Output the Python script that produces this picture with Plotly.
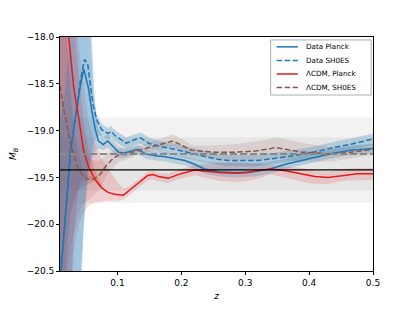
import plotly.graph_objects as go

# ---------------- data ----------------
# Data Planck (solid blue)
z_dp = [0.01, 0.019, 0.0266, 0.0343, 0.0419, 0.0472, 0.0546, 0.0598, 0.0648, 0.0699, 0.0775, 0.0847,
        0.0954, 0.1015, 0.1107, 0.1214, 0.132, 0.1443, 0.1596, 0.175, 0.1948, 0.2055, 0.2208, 0.2361,
        0.259, 0.2865, 0.3125, 0.3385, 0.363, 0.389, 0.415, 0.4394, 0.4654, 0.5]
m_dp = [-20.64, -19.84, -19.21, -18.86, -18.52, -18.34, -18.55, -18.79, -18.97, -19.11, -19.15, -19.11,
        -19.19, -19.23, -19.24, -19.22, -19.20, -19.25, -19.27, -19.28, -19.31, -19.32, -19.36, -19.41,
        -19.44, -19.45, -19.44, -19.41, -19.36, -19.32, -19.28, -19.24, -19.21, -19.19]
m_dp_hi = [-17.0, -17.0, -17.0, -17.0, -17.0, -17.2, -17.6, -18.0, -18.7, -18.97, -19.07, -19.04,
           -19.12, -19.17, -19.19, -19.17, -19.15, -19.20, -19.22, -19.23, -19.26, -19.27, -19.30, -19.33,
           -19.34, -19.35, -19.35, -19.33, -19.30, -19.27, -19.23, -19.19, -19.16, -19.14]
m_dp_lo = [-21.5, -21.5, -21.5, -21.5, -21.0, -20.0, -19.45, -19.3, -19.22, -19.19, -19.21, -19.18,
           -19.25, -19.29, -19.29, -19.27, -19.25, -19.30, -19.32, -19.33, -19.36, -19.37, -19.41, -19.46,
           -19.49, -19.50, -19.49, -19.46, -19.41, -19.37, -19.33, -19.29, -19.26, -19.24]

# Data SH0ES (dashed blue)
z_ds = [0.01, 0.019, 0.0266, 0.0343, 0.0419, 0.0482, 0.0534, 0.0572, 0.0622, 0.0674, 0.0751, 0.0852,
        0.0904, 0.0954, 0.1015, 0.1138, 0.129, 0.1367, 0.149, 0.1673, 0.190, 0.210, 0.2315, 0.2514,
        0.2743, 0.2972, 0.320, 0.343, 0.366, 0.389, 0.415, 0.439, 0.4654, 0.5]
m_ds = [-20.64, -19.84, -19.21, -18.84, -18.47, -18.24, -18.29, -18.5, -18.74, -18.885, -18.99, -19.03,
        -19.01, -19.05, -19.08, -19.135, -19.09, -19.08, -19.135, -19.17, -19.20, -19.23, -19.27, -19.30,
        -19.32, -19.32, -19.32, -19.30, -19.28, -19.255, -19.22, -19.18, -19.145, -19.09]
m_ds_hi = [-18.9, -18.5, -18.0, -17.5, -17.0, -17.2, -17.5, -17.9, -18.6, -18.83, -18.93, -18.97,
           -18.95, -18.99, -19.02, -19.075, -19.03, -19.02, -19.075, -19.11, -19.14, -19.17, -19.21, -19.24,
           -19.26, -19.26, -19.26, -19.24, -19.22, -19.195, -19.16, -19.12, -19.085, -19.03]
m_ds_lo = [-21.5, -21.5, -21.5, -21.5, -21.0, -19.9, -19.45, -19.3, -19.15, -19.05, -19.06, -19.09,
           -19.07, -19.11, -19.14, -19.195, -19.15, -19.14, -19.195, -19.23, -19.26, -19.29, -19.33, -19.36,
           -19.38, -19.38, -19.38, -19.36, -19.34, -19.315, -19.28, -19.24, -19.205, -19.15]

# LCDM, Planck (solid red)
z_lp = [0.01, 0.0218, 0.0266, 0.0317, 0.0393, 0.047, 0.0546, 0.0648, 0.0751, 0.0852, 0.0954, 0.103,
        0.109, 0.1183, 0.1336, 0.1474, 0.155, 0.1642, 0.1795, 0.1948, 0.2208, 0.2361, 0.262, 0.2865,
        0.3018, 0.3171, 0.340, 0.363, 0.389, 0.409, 0.430, 0.4501, 0.476, 0.5]
m_lp = [-17.1, -17.93, -18.27, -18.55, -18.865, -19.21, -19.385, -19.52, -19.61, -19.66, -19.68, -19.69,
        -19.69, -19.64, -19.56, -19.48, -19.47, -19.49, -19.51, -19.47, -19.42, -19.43, -19.45, -19.455,
        -19.45, -19.43, -19.41, -19.43, -19.46, -19.49, -19.50, -19.48, -19.46, -19.46]
m_lp_hi = [-16.5, -16.8, -17.2, -17.6, -18.1, -18.5, -18.9, -19.15, -19.3, -19.4, -19.5, -19.58,
           -19.62, -19.6, -19.52, -19.44, -19.43, -19.45, -19.46, -19.42, -19.37, -19.36, -19.35, -19.33,
           -19.34, -19.35, -19.36, -19.38, -19.40, -19.43, -19.44, -19.41, -19.40, -19.40]
m_lp_lo = [-21.5, -21.5, -21.0, -20.3, -20.0, -19.88, -19.8, -19.77, -19.76, -19.75, -19.75, -19.75,
           -19.74, -19.69, -19.61, -19.53, -19.52, -19.54, -19.56, -19.52, -19.48, -19.5, -19.54, -19.55,
           -19.54, -19.52, -19.47, -19.5, -19.55, -19.57, -19.57, -19.54, -19.53, -19.53]
# inner (1 sigma) band at low z
z_lp_in = [0.01, 0.0218, 0.0266, 0.0317, 0.0393, 0.047, 0.0546, 0.0648, 0.0751]
m_lp_in_hi = [-16.5, -16.9, -17.4, -17.8, -18.4, -18.9, -19.2, -19.42, -19.58]
m_lp_in_lo = [-21.5, -21.3, -20.8, -20.1, -19.6, -19.5, -19.5, -19.55, -19.63]

# LCDM, SH0ES (dashed brown)
z_ls = [0.01, 0.0113, 0.0164, 0.0218, 0.0266, 0.0317, 0.0369, 0.0445, 0.0522, 0.0622, 0.0725, 0.0832,
        0.0928, 0.103, 0.1138, 0.129, 0.1443, 0.1596, 0.175, 0.1872, 0.201, 0.2162, 0.2315, 0.2514,
        0.2865, 0.3128, 0.3385, 0.346, 0.363, 0.389, 0.415, 0.435, 0.4654, 0.5]
m_ls = [-18.52, -18.58, -18.79, -18.97, -19.145, -19.25, -19.385, -19.47, -19.52, -19.52, -19.47, -19.365,
        -19.30, -19.255, -19.255, -19.22, -19.19, -19.16, -19.135, -19.11, -19.16, -19.21, -19.22, -19.23,
        -19.23, -19.22, -19.195, -19.18, -19.20, -19.23, -19.24, -19.25, -19.23, -19.20]
m_ls_hi = [-17.0, -17.0, -17.2, -17.6, -18.0, -18.5, -18.85, -19.1, -19.25, -19.32, -19.32, -19.25,
           -19.21, -19.19, -19.2, -19.17, -19.14, -19.1, -19.07, -19.04, -19.09, -19.15, -19.16, -19.16,
           -19.14, -19.12, -19.09, -19.07, -19.09, -19.13, -19.16, -19.18, -19.17, -19.15]
m_ls_lo = [-21.5, -21.5, -21.0, -20.5, -20.25, -20.1, -19.95, -19.8, -19.75, -19.70, -19.62, -19.48,
           -19.40, -19.33, -19.31, -19.27, -19.24, -19.21, -19.19, -19.17, -19.22, -19.27, -19.28, -19.30,
           -19.32, -19.32, -19.30, -19.29, -19.31, -19.33, -19.33, -19.33, -19.30, -19.26]
z_ls_in = [0.01, 0.0113, 0.0164, 0.0218, 0.0266, 0.0317, 0.0369, 0.0445, 0.0522, 0.0622]
m_ls_in_hi = [-17.0, -17.2, -17.6, -18.1, -18.6, -18.95, -19.2, -19.38, -19.47, -19.5]
m_ls_in_lo = [-21.5, -21.3, -20.8, -20.2, -19.9, -19.75, -19.65, -19.6, -19.58, -19.55]

# reference values and their bands
mb_planck = -19.42
mb_planck_err = 0.35
mb_shoes = -19.25
mb_shoes_err = 0.39

x_ticks = [0.1, 0.2, 0.3, 0.4, 0.5]
x_tick_labels = ["0.1", "0.2", "0.3", "0.4", "0.5"]
y_ticks = [-20.5, -20.0, -19.5, -19.0, -18.5, -18.0]
y_tick_labels = ["\u221220.5", "\u221220.0", "\u221219.5", "\u221219.0", "\u221218.5", "\u221218.0"]

names = ["Data Planck", "Data SH0ES", "\u039bCDM, Planck", "\u039bCDM, SH0ES"]

# ---------------- styles ----------------
BLUE = "#1f77b4"
RED = "#e41a1c"
BROWN = "#8c564b"
FONT = "DejaVu Sans"
DASH = "5.5px,2.5px"

fig = go.Figure()


def band(x, lo, hi, color):
    return go.Scatter(x=list(x) + list(x)[::-1], y=list(hi) + list(lo)[::-1],
                      fill="toself", fillcolor=color, mode="lines",
                      line=dict(width=0), showlegend=False, hoverinfo="skip")


fig.add_trace(band(z_ls, m_ls_lo, m_ls_hi, "rgba(140,86,75,0.15)"))
fig.add_trace(band(z_ls_in, m_ls_in_lo, m_ls_in_hi, "rgba(140,86,75,0.25)"))
fig.add_trace(band(z_lp, m_lp_lo, m_lp_hi, "rgba(228,26,28,0.16)"))
fig.add_trace(band(z_lp_in, m_lp_in_lo, m_lp_in_hi, "rgba(228,26,28,0.2)"))
fig.add_trace(band(z_dp, m_dp_lo, m_dp_hi, "rgba(31,119,180,0.22)"))
fig.add_trace(band(z_ds, m_ds_lo, m_ds_hi, "rgba(31,119,180,0.25)"))

series = [(z_dp, m_dp, BLUE, "solid"), (z_ds, m_ds, BLUE, DASH),
          (z_lp, m_lp, RED, "solid"), (z_ls, m_ls, BROWN, DASH)]
for (zz, mm, col, dsh), nm in zip(series, names):
    fig.add_trace(go.Scatter(x=zz, y=mm, mode="lines", name=nm,
                             line=dict(color=col, width=1.5, dash=dsh), showlegend=False))

# grey reference bands
for c, e in [(mb_shoes, mb_shoes_err), (mb_planck, mb_planck_err)]:
    fig.add_shape(type="rect", xref="x domain", yref="y", x0=0, x1=1, y0=c - e, y1=c + e,
                  fillcolor="rgba(128,128,128,0.1)", line=dict(width=0), layer="below")

fig.add_shape(type="line", xref="x domain", yref="y", x0=0, x1=1, y0=mb_planck, y1=mb_planck,
              line=dict(color="black", width=1.4), layer="above")
fig.add_shape(type="line", xref="x domain", yref="y", x0=0, x1=1, y0=mb_shoes, y1=mb_shoes,
              line=dict(color="#8a8a8a", width=2, dash="7px,3px"), layer="above")

# legend (matplotlib-style compact box), positioned in axes-fraction units
leg_x0, leg_x1, leg_y0, leg_y1 = 0.673, 0.994, 0.752, 0.9875
fig.add_shape(type="rect", xref="x domain", yref="y domain", x0=leg_x0, x1=leg_x1, y0=leg_y0, y1=leg_y1,
              fillcolor="rgba(255,255,255,0.85)", line=dict(color="#9a9a9a", width=0.8), layer="above")
row_y = [0.958, 0.9, 0.842, 0.784]
for (zz, mm, col, dsh), nm, ry in zip(series, names, row_y):
    fig.add_shape(type="line", xref="x domain", yref="y domain", x0=0.692, x1=0.760, y0=ry, y1=ry,
                  line=dict(color=col, width=1.5, dash=dsh), layer="above")
    fig.add_annotation(xref="x domain", yref="y domain", x=0.778, y=ry, text=nm, showarrow=False,
                       xanchor="left", yanchor="middle",
                       font=dict(family=FONT, size=7.2, color="black"))

axis_common = dict(showline=True, linecolor="black", linewidth=0.9, mirror=True,
                   ticks="outside", ticklen=3, tickwidth=0.8, tickcolor="black",
                   showgrid=False, zeroline=False,
                   tickfont=dict(family=FONT, size=9, color="black"))

fig.update_layout(
    width=415, height=311,
    margin=dict(l=52, r=42, t=37, b=34),
    paper_bgcolor="white", plot_bgcolor="rgba(0,0,0,0)",
    font=dict(family=FONT, size=9, color="black"),
    xaxis=dict(range=[0.01, 0.5], tickvals=x_ticks, ticktext=x_tick_labels,
               title=dict(text="<i>z</i>", font=dict(family=FONT, size=9), standoff=5),
               **axis_common),
    yaxis=dict(range=[-20.5, -18.0], tickvals=y_ticks, ticktext=y_tick_labels,
               title=dict(text="<i>M</i><sub><i>B</i></sub>", font=dict(family=FONT, size=9), standoff=8),
               **axis_common),
    showlegend=False,
)

fig.write_html("out.html", config={"displayModeBar": False},
               post_script="document.body.style.margin='0';document.body.style.overflow='hidden';")
